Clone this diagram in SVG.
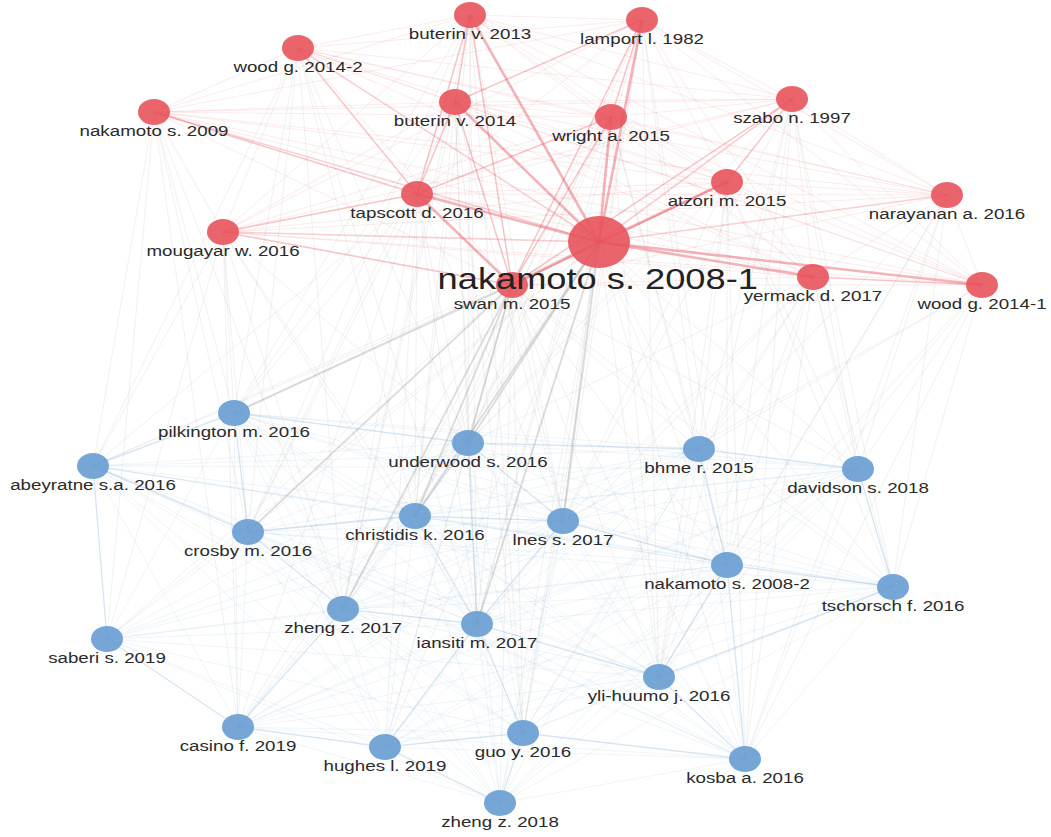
<svg xmlns="http://www.w3.org/2000/svg" width="1051" height="837" viewBox="0 0 1051 837">
<style>
.er line{stroke:#e34a55;stroke-opacity:.11;stroke-width:1}
.er1 line{stroke:#e34a55;stroke-opacity:.26;stroke-width:1.6}
.er2 line{stroke:#e34a55;stroke-opacity:.42;stroke-width:2.6}
.eg line{stroke:#999;stroke-opacity:.14;stroke-width:1}
.eg1 line{stroke:#999;stroke-opacity:.28;stroke-width:2}
.eb line{stroke:#7aaad8;stroke-opacity:.12;stroke-width:1}
.eb1 line{stroke:#7aaad8;stroke-opacity:.22;stroke-width:1.4}
.red{fill:#e8535c;fill-opacity:.9}
.blue{fill:#6a9ed2;fill-opacity:.92}
.lbl{font-family:"Liberation Sans",Arial,sans-serif;font-size:15px;fill:#2a2a2a;text-anchor:middle}
.big{font-family:"Liberation Sans",Arial,sans-serif;font-size:29px;fill:#222;text-anchor:middle}
</style>
<rect width="1051" height="837" fill="#fff"/>
<g id="connectors">
<g class="eb">
<line x1="234" y1="413" x2="468" y2="443"/><line x1="234" y1="413" x2="93" y2="466"/><line x1="234" y1="413" x2="699" y2="449"/><line x1="234" y1="413" x2="858" y2="469"/><line x1="234" y1="413" x2="415" y2="516"/><line x1="234" y1="413" x2="563" y2="521"/><line x1="234" y1="413" x2="248" y2="532"/><line x1="234" y1="413" x2="727" y2="565"/><line x1="234" y1="413" x2="893" y2="587"/><line x1="234" y1="413" x2="343" y2="609"/><line x1="234" y1="413" x2="477" y2="624"/><line x1="234" y1="413" x2="107" y2="639"/><line x1="234" y1="413" x2="659" y2="677"/><line x1="234" y1="413" x2="238" y2="727"/><line x1="234" y1="413" x2="385" y2="747"/><line x1="234" y1="413" x2="523" y2="733"/><line x1="234" y1="413" x2="745" y2="759"/><line x1="234" y1="413" x2="500" y2="803"/>
<line x1="468" y1="443" x2="93" y2="466"/><line x1="468" y1="443" x2="699" y2="449"/><line x1="468" y1="443" x2="858" y2="469"/><line x1="468" y1="443" x2="415" y2="516"/><line x1="468" y1="443" x2="563" y2="521"/><line x1="468" y1="443" x2="248" y2="532"/><line x1="468" y1="443" x2="727" y2="565"/><line x1="468" y1="443" x2="893" y2="587"/><line x1="468" y1="443" x2="343" y2="609"/><line x1="468" y1="443" x2="477" y2="624"/><line x1="468" y1="443" x2="107" y2="639"/><line x1="468" y1="443" x2="659" y2="677"/><line x1="468" y1="443" x2="238" y2="727"/><line x1="468" y1="443" x2="385" y2="747"/><line x1="468" y1="443" x2="523" y2="733"/><line x1="468" y1="443" x2="745" y2="759"/><line x1="468" y1="443" x2="500" y2="803"/>
<line x1="93" y1="466" x2="699" y2="449"/><line x1="93" y1="466" x2="858" y2="469"/><line x1="93" y1="466" x2="415" y2="516"/><line x1="93" y1="466" x2="563" y2="521"/><line x1="93" y1="466" x2="248" y2="532"/><line x1="93" y1="466" x2="727" y2="565"/><line x1="93" y1="466" x2="893" y2="587"/><line x1="93" y1="466" x2="343" y2="609"/><line x1="93" y1="466" x2="477" y2="624"/><line x1="93" y1="466" x2="107" y2="639"/><line x1="93" y1="466" x2="659" y2="677"/><line x1="93" y1="466" x2="238" y2="727"/><line x1="93" y1="466" x2="385" y2="747"/><line x1="93" y1="466" x2="523" y2="733"/><line x1="93" y1="466" x2="745" y2="759"/><line x1="93" y1="466" x2="500" y2="803"/>
<line x1="699" y1="449" x2="858" y2="469"/><line x1="699" y1="449" x2="415" y2="516"/><line x1="699" y1="449" x2="563" y2="521"/><line x1="699" y1="449" x2="248" y2="532"/><line x1="699" y1="449" x2="727" y2="565"/><line x1="699" y1="449" x2="893" y2="587"/><line x1="699" y1="449" x2="343" y2="609"/><line x1="699" y1="449" x2="477" y2="624"/><line x1="699" y1="449" x2="107" y2="639"/><line x1="699" y1="449" x2="659" y2="677"/><line x1="699" y1="449" x2="238" y2="727"/><line x1="699" y1="449" x2="385" y2="747"/><line x1="699" y1="449" x2="523" y2="733"/><line x1="699" y1="449" x2="745" y2="759"/><line x1="699" y1="449" x2="500" y2="803"/>
<line x1="858" y1="469" x2="415" y2="516"/><line x1="858" y1="469" x2="563" y2="521"/><line x1="858" y1="469" x2="248" y2="532"/><line x1="858" y1="469" x2="727" y2="565"/><line x1="858" y1="469" x2="893" y2="587"/><line x1="858" y1="469" x2="343" y2="609"/><line x1="858" y1="469" x2="477" y2="624"/><line x1="858" y1="469" x2="659" y2="677"/><line x1="858" y1="469" x2="238" y2="727"/><line x1="858" y1="469" x2="385" y2="747"/><line x1="858" y1="469" x2="523" y2="733"/><line x1="858" y1="469" x2="745" y2="759"/><line x1="858" y1="469" x2="500" y2="803"/>
<line x1="415" y1="516" x2="563" y2="521"/><line x1="415" y1="516" x2="248" y2="532"/><line x1="415" y1="516" x2="727" y2="565"/><line x1="415" y1="516" x2="893" y2="587"/><line x1="415" y1="516" x2="343" y2="609"/><line x1="415" y1="516" x2="477" y2="624"/><line x1="415" y1="516" x2="107" y2="639"/><line x1="415" y1="516" x2="659" y2="677"/><line x1="415" y1="516" x2="238" y2="727"/><line x1="415" y1="516" x2="385" y2="747"/><line x1="415" y1="516" x2="523" y2="733"/><line x1="415" y1="516" x2="745" y2="759"/><line x1="415" y1="516" x2="500" y2="803"/>
<line x1="563" y1="521" x2="248" y2="532"/><line x1="563" y1="521" x2="727" y2="565"/><line x1="563" y1="521" x2="893" y2="587"/><line x1="563" y1="521" x2="343" y2="609"/><line x1="563" y1="521" x2="477" y2="624"/><line x1="563" y1="521" x2="107" y2="639"/><line x1="563" y1="521" x2="659" y2="677"/><line x1="563" y1="521" x2="238" y2="727"/><line x1="563" y1="521" x2="385" y2="747"/><line x1="563" y1="521" x2="523" y2="733"/><line x1="563" y1="521" x2="745" y2="759"/><line x1="563" y1="521" x2="500" y2="803"/>
<line x1="248" y1="532" x2="727" y2="565"/><line x1="248" y1="532" x2="893" y2="587"/><line x1="248" y1="532" x2="343" y2="609"/><line x1="248" y1="532" x2="477" y2="624"/><line x1="248" y1="532" x2="107" y2="639"/><line x1="248" y1="532" x2="659" y2="677"/><line x1="248" y1="532" x2="238" y2="727"/><line x1="248" y1="532" x2="385" y2="747"/><line x1="248" y1="532" x2="523" y2="733"/><line x1="248" y1="532" x2="745" y2="759"/><line x1="248" y1="532" x2="500" y2="803"/>
<line x1="727" y1="565" x2="893" y2="587"/><line x1="727" y1="565" x2="343" y2="609"/><line x1="727" y1="565" x2="477" y2="624"/><line x1="727" y1="565" x2="107" y2="639"/><line x1="727" y1="565" x2="659" y2="677"/><line x1="727" y1="565" x2="238" y2="727"/><line x1="727" y1="565" x2="385" y2="747"/><line x1="727" y1="565" x2="523" y2="733"/><line x1="727" y1="565" x2="745" y2="759"/><line x1="727" y1="565" x2="500" y2="803"/>
<line x1="893" y1="587" x2="343" y2="609"/><line x1="893" y1="587" x2="477" y2="624"/><line x1="893" y1="587" x2="659" y2="677"/><line x1="893" y1="587" x2="238" y2="727"/><line x1="893" y1="587" x2="385" y2="747"/><line x1="893" y1="587" x2="523" y2="733"/><line x1="893" y1="587" x2="745" y2="759"/><line x1="893" y1="587" x2="500" y2="803"/>
<line x1="343" y1="609" x2="477" y2="624"/><line x1="343" y1="609" x2="107" y2="639"/><line x1="343" y1="609" x2="659" y2="677"/><line x1="343" y1="609" x2="238" y2="727"/><line x1="343" y1="609" x2="385" y2="747"/><line x1="343" y1="609" x2="523" y2="733"/><line x1="343" y1="609" x2="745" y2="759"/><line x1="343" y1="609" x2="500" y2="803"/>
<line x1="477" y1="624" x2="107" y2="639"/><line x1="477" y1="624" x2="659" y2="677"/><line x1="477" y1="624" x2="238" y2="727"/><line x1="477" y1="624" x2="385" y2="747"/><line x1="477" y1="624" x2="523" y2="733"/><line x1="477" y1="624" x2="745" y2="759"/><line x1="477" y1="624" x2="500" y2="803"/>
<line x1="107" y1="639" x2="659" y2="677"/><line x1="107" y1="639" x2="238" y2="727"/><line x1="107" y1="639" x2="385" y2="747"/><line x1="107" y1="639" x2="523" y2="733"/><line x1="107" y1="639" x2="500" y2="803"/>
<line x1="659" y1="677" x2="238" y2="727"/><line x1="659" y1="677" x2="385" y2="747"/><line x1="659" y1="677" x2="523" y2="733"/><line x1="659" y1="677" x2="745" y2="759"/><line x1="659" y1="677" x2="500" y2="803"/>
<line x1="238" y1="727" x2="385" y2="747"/><line x1="238" y1="727" x2="523" y2="733"/><line x1="238" y1="727" x2="745" y2="759"/><line x1="238" y1="727" x2="500" y2="803"/>
<line x1="385" y1="747" x2="523" y2="733"/><line x1="385" y1="747" x2="745" y2="759"/><line x1="385" y1="747" x2="500" y2="803"/>
<line x1="523" y1="733" x2="745" y2="759"/><line x1="523" y1="733" x2="500" y2="803"/><line x1="745" y1="759" x2="500" y2="803"/>
</g>
<g class="eb1">
<line x1="234" y1="413" x2="93" y2="466"/><line x1="234" y1="413" x2="248" y2="532"/><line x1="234" y1="413" x2="468" y2="443"/><line x1="93" y1="466" x2="248" y2="532"/><line x1="248" y1="532" x2="415" y2="516"/><line x1="415" y1="516" x2="468" y2="443"/><line x1="415" y1="516" x2="563" y2="521"/><line x1="563" y1="521" x2="468" y2="443"/><line x1="468" y1="443" x2="699" y2="449"/><line x1="699" y1="449" x2="858" y2="469"/><line x1="699" y1="449" x2="727" y2="565"/><line x1="727" y1="565" x2="893" y2="587"/><line x1="858" y1="469" x2="893" y2="587"/><line x1="563" y1="521" x2="727" y2="565"/><line x1="477" y1="624" x2="343" y2="609"/><line x1="477" y1="624" x2="415" y2="516"/><line x1="477" y1="624" x2="563" y2="521"/><line x1="477" y1="624" x2="523" y2="733"/><line x1="477" y1="624" x2="659" y2="677"/><line x1="477" y1="624" x2="385" y2="747"/><line x1="343" y1="609" x2="248" y2="532"/><line x1="343" y1="609" x2="238" y2="727"/><line x1="238" y1="727" x2="385" y2="747"/><line x1="385" y1="747" x2="523" y2="733"/><line x1="523" y1="733" x2="500" y2="803"/><line x1="523" y1="733" x2="745" y2="759"/><line x1="659" y1="677" x2="745" y2="759"/><line x1="659" y1="677" x2="893" y2="587"/><line x1="727" y1="565" x2="659" y2="677"/><line x1="745" y1="759" x2="727" y2="565"/><line x1="500" y1="803" x2="385" y2="747"/><line x1="107" y1="639" x2="93" y2="466"/><line x1="107" y1="639" x2="238" y2="727"/><line x1="468" y1="443" x2="477" y2="624"/>
</g>
<g class="eg">
<line x1="512" y1="285" x2="234" y2="413"/><line x1="512" y1="285" x2="468" y2="443"/><line x1="512" y1="285" x2="93" y2="466"/><line x1="512" y1="285" x2="699" y2="449"/><line x1="512" y1="285" x2="858" y2="469"/><line x1="512" y1="285" x2="415" y2="516"/><line x1="512" y1="285" x2="563" y2="521"/><line x1="512" y1="285" x2="248" y2="532"/><line x1="512" y1="285" x2="727" y2="565"/><line x1="512" y1="285" x2="893" y2="587"/><line x1="512" y1="285" x2="343" y2="609"/><line x1="512" y1="285" x2="477" y2="624"/><line x1="512" y1="285" x2="107" y2="639"/><line x1="512" y1="285" x2="659" y2="677"/><line x1="512" y1="285" x2="238" y2="727"/><line x1="512" y1="285" x2="385" y2="747"/><line x1="512" y1="285" x2="523" y2="733"/><line x1="512" y1="285" x2="745" y2="759"/><line x1="512" y1="285" x2="500" y2="803"/>
<line x1="599" y1="242" x2="234" y2="413"/><line x1="599" y1="242" x2="468" y2="443"/><line x1="599" y1="242" x2="93" y2="466"/><line x1="599" y1="242" x2="699" y2="449"/><line x1="599" y1="242" x2="858" y2="469"/><line x1="599" y1="242" x2="415" y2="516"/><line x1="599" y1="242" x2="563" y2="521"/><line x1="599" y1="242" x2="248" y2="532"/><line x1="599" y1="242" x2="727" y2="565"/><line x1="599" y1="242" x2="893" y2="587"/><line x1="599" y1="242" x2="343" y2="609"/><line x1="599" y1="242" x2="477" y2="624"/><line x1="599" y1="242" x2="107" y2="639"/><line x1="599" y1="242" x2="659" y2="677"/><line x1="599" y1="242" x2="238" y2="727"/><line x1="599" y1="242" x2="385" y2="747"/><line x1="599" y1="242" x2="523" y2="733"/><line x1="599" y1="242" x2="745" y2="759"/><line x1="599" y1="242" x2="500" y2="803"/>
<line x1="417" y1="194" x2="234" y2="413"/><line x1="417" y1="194" x2="248" y2="532"/><line x1="417" y1="194" x2="468" y2="443"/><line x1="417" y1="194" x2="93" y2="466"/><line x1="417" y1="194" x2="415" y2="516"/><line x1="417" y1="194" x2="343" y2="609"/><line x1="417" y1="194" x2="477" y2="624"/><line x1="417" y1="194" x2="563" y2="521"/><line x1="417" y1="194" x2="238" y2="727"/><line x1="417" y1="194" x2="385" y2="747"/>
<line x1="223" y1="232" x2="234" y2="413"/><line x1="223" y1="232" x2="93" y2="466"/><line x1="223" y1="232" x2="248" y2="532"/><line x1="223" y1="232" x2="107" y2="639"/><line x1="223" y1="232" x2="238" y2="727"/><line x1="223" y1="232" x2="415" y2="516"/><line x1="223" y1="232" x2="343" y2="609"/><line x1="223" y1="232" x2="477" y2="624"/><line x1="223" y1="232" x2="468" y2="443"/>
<line x1="154" y1="112" x2="93" y2="466"/><line x1="154" y1="112" x2="234" y2="413"/><line x1="154" y1="112" x2="248" y2="532"/><line x1="154" y1="112" x2="107" y2="639"/><line x1="154" y1="112" x2="238" y2="727"/><line x1="154" y1="112" x2="343" y2="609"/>
<line x1="298" y1="48" x2="234" y2="413"/><line x1="298" y1="48" x2="248" y2="532"/><line x1="298" y1="48" x2="468" y2="443"/><line x1="298" y1="48" x2="93" y2="466"/><line x1="298" y1="48" x2="415" y2="516"/><line x1="298" y1="48" x2="343" y2="609"/><line x1="298" y1="48" x2="477" y2="624"/>
<line x1="455" y1="102" x2="468" y2="443"/><line x1="455" y1="102" x2="415" y2="516"/><line x1="455" y1="102" x2="477" y2="624"/><line x1="455" y1="102" x2="234" y2="413"/><line x1="455" y1="102" x2="248" y2="532"/><line x1="455" y1="102" x2="563" y2="521"/><line x1="455" y1="102" x2="343" y2="609"/><line x1="455" y1="102" x2="523" y2="733"/>
<line x1="470" y1="15" x2="477" y2="624"/><line x1="470" y1="15" x2="563" y2="521"/><line x1="470" y1="15" x2="468" y2="443"/><line x1="470" y1="15" x2="415" y2="516"/><line x1="470" y1="15" x2="248" y2="532"/><line x1="470" y1="15" x2="343" y2="609"/><line x1="470" y1="15" x2="523" y2="733"/><line x1="470" y1="15" x2="234" y2="413"/>
<line x1="611" y1="117" x2="468" y2="443"/><line x1="611" y1="117" x2="563" y2="521"/><line x1="611" y1="117" x2="699" y2="449"/><line x1="611" y1="117" x2="477" y2="624"/><line x1="611" y1="117" x2="727" y2="565"/><line x1="611" y1="117" x2="415" y2="516"/><line x1="611" y1="117" x2="659" y2="677"/><line x1="611" y1="117" x2="343" y2="609"/>
<line x1="642" y1="20" x2="699" y2="449"/><line x1="642" y1="20" x2="727" y2="565"/><line x1="642" y1="20" x2="563" y2="521"/><line x1="642" y1="20" x2="477" y2="624"/><line x1="642" y1="20" x2="468" y2="443"/><line x1="642" y1="20" x2="659" y2="677"/><line x1="642" y1="20" x2="523" y2="733"/><line x1="642" y1="20" x2="415" y2="516"/>
<line x1="792" y1="99" x2="858" y2="469"/><line x1="792" y1="99" x2="727" y2="565"/><line x1="792" y1="99" x2="893" y2="587"/><line x1="792" y1="99" x2="699" y2="449"/><line x1="792" y1="99" x2="659" y2="677"/><line x1="792" y1="99" x2="745" y2="759"/><line x1="792" y1="99" x2="563" y2="521"/><line x1="792" y1="99" x2="468" y2="443"/>
<line x1="727" y1="182" x2="699" y2="449"/><line x1="727" y1="182" x2="727" y2="565"/><line x1="727" y1="182" x2="858" y2="469"/><line x1="727" y1="182" x2="659" y2="677"/><line x1="727" y1="182" x2="563" y2="521"/><line x1="727" y1="182" x2="468" y2="443"/><line x1="727" y1="182" x2="893" y2="587"/><line x1="727" y1="182" x2="745" y2="759"/>
<line x1="947" y1="195" x2="858" y2="469"/><line x1="947" y1="195" x2="893" y2="587"/><line x1="947" y1="195" x2="727" y2="565"/><line x1="947" y1="195" x2="745" y2="759"/><line x1="947" y1="195" x2="699" y2="449"/><line x1="947" y1="195" x2="659" y2="677"/>
<line x1="813" y1="277" x2="858" y2="469"/><line x1="813" y1="277" x2="893" y2="587"/><line x1="813" y1="277" x2="727" y2="565"/><line x1="813" y1="277" x2="699" y2="449"/><line x1="813" y1="277" x2="659" y2="677"/><line x1="813" y1="277" x2="745" y2="759"/><line x1="813" y1="277" x2="523" y2="733"/><line x1="813" y1="277" x2="563" y2="521"/><line x1="813" y1="277" x2="468" y2="443"/><line x1="813" y1="277" x2="477" y2="624"/>
<line x1="982" y1="285" x2="858" y2="469"/><line x1="982" y1="285" x2="893" y2="587"/><line x1="982" y1="285" x2="745" y2="759"/><line x1="982" y1="285" x2="727" y2="565"/><line x1="982" y1="285" x2="659" y2="677"/><line x1="982" y1="285" x2="699" y2="449"/><line x1="982" y1="285" x2="563" y2="521"/>
</g>
<g class="eg1">
<line x1="512" y1="285" x2="234" y2="413"/><line x1="512" y1="285" x2="415" y2="516"/><line x1="512" y1="285" x2="468" y2="443"/><line x1="512" y1="285" x2="343" y2="609"/><line x1="599" y1="242" x2="468" y2="443"/><line x1="599" y1="242" x2="563" y2="521"/><line x1="599" y1="242" x2="477" y2="624"/><line x1="512" y1="285" x2="248" y2="532"/><line x1="599" y1="242" x2="415" y2="516"/>
</g>
<g class="er">
<line x1="470" y1="15" x2="642" y2="20"/><line x1="470" y1="15" x2="298" y2="48"/><line x1="470" y1="15" x2="154" y2="112"/><line x1="470" y1="15" x2="455" y2="102"/><line x1="470" y1="15" x2="611" y2="117"/><line x1="470" y1="15" x2="792" y2="99"/><line x1="470" y1="15" x2="727" y2="182"/><line x1="470" y1="15" x2="947" y2="195"/><line x1="470" y1="15" x2="417" y2="194"/><line x1="470" y1="15" x2="223" y2="232"/><line x1="470" y1="15" x2="512" y2="285"/><line x1="470" y1="15" x2="813" y2="277"/><line x1="470" y1="15" x2="982" y2="285"/>
<line x1="642" y1="20" x2="298" y2="48"/><line x1="642" y1="20" x2="154" y2="112"/><line x1="642" y1="20" x2="455" y2="102"/><line x1="642" y1="20" x2="611" y2="117"/><line x1="642" y1="20" x2="792" y2="99"/><line x1="642" y1="20" x2="727" y2="182"/><line x1="642" y1="20" x2="947" y2="195"/><line x1="642" y1="20" x2="417" y2="194"/><line x1="642" y1="20" x2="223" y2="232"/><line x1="642" y1="20" x2="512" y2="285"/><line x1="642" y1="20" x2="813" y2="277"/><line x1="642" y1="20" x2="982" y2="285"/>
<line x1="298" y1="48" x2="154" y2="112"/><line x1="298" y1="48" x2="455" y2="102"/><line x1="298" y1="48" x2="611" y2="117"/><line x1="298" y1="48" x2="792" y2="99"/><line x1="298" y1="48" x2="727" y2="182"/><line x1="298" y1="48" x2="947" y2="195"/><line x1="298" y1="48" x2="417" y2="194"/><line x1="298" y1="48" x2="223" y2="232"/><line x1="298" y1="48" x2="512" y2="285"/><line x1="298" y1="48" x2="813" y2="277"/><line x1="298" y1="48" x2="982" y2="285"/>
<line x1="154" y1="112" x2="455" y2="102"/><line x1="154" y1="112" x2="611" y2="117"/><line x1="154" y1="112" x2="792" y2="99"/><line x1="154" y1="112" x2="727" y2="182"/><line x1="154" y1="112" x2="947" y2="195"/><line x1="154" y1="112" x2="417" y2="194"/><line x1="154" y1="112" x2="223" y2="232"/><line x1="154" y1="112" x2="512" y2="285"/><line x1="154" y1="112" x2="813" y2="277"/><line x1="154" y1="112" x2="982" y2="285"/>
<line x1="455" y1="102" x2="611" y2="117"/><line x1="455" y1="102" x2="792" y2="99"/><line x1="455" y1="102" x2="727" y2="182"/><line x1="455" y1="102" x2="947" y2="195"/><line x1="455" y1="102" x2="417" y2="194"/><line x1="455" y1="102" x2="223" y2="232"/><line x1="455" y1="102" x2="512" y2="285"/><line x1="455" y1="102" x2="813" y2="277"/><line x1="455" y1="102" x2="982" y2="285"/>
<line x1="611" y1="117" x2="792" y2="99"/><line x1="611" y1="117" x2="727" y2="182"/><line x1="611" y1="117" x2="947" y2="195"/><line x1="611" y1="117" x2="417" y2="194"/><line x1="611" y1="117" x2="223" y2="232"/><line x1="611" y1="117" x2="512" y2="285"/><line x1="611" y1="117" x2="813" y2="277"/><line x1="611" y1="117" x2="982" y2="285"/>
<line x1="792" y1="99" x2="727" y2="182"/><line x1="792" y1="99" x2="947" y2="195"/><line x1="792" y1="99" x2="417" y2="194"/><line x1="792" y1="99" x2="223" y2="232"/><line x1="792" y1="99" x2="512" y2="285"/><line x1="792" y1="99" x2="813" y2="277"/><line x1="792" y1="99" x2="982" y2="285"/>
<line x1="727" y1="182" x2="947" y2="195"/><line x1="727" y1="182" x2="417" y2="194"/><line x1="727" y1="182" x2="223" y2="232"/><line x1="727" y1="182" x2="512" y2="285"/><line x1="727" y1="182" x2="813" y2="277"/><line x1="727" y1="182" x2="982" y2="285"/>
<line x1="947" y1="195" x2="417" y2="194"/><line x1="947" y1="195" x2="223" y2="232"/><line x1="947" y1="195" x2="512" y2="285"/><line x1="947" y1="195" x2="813" y2="277"/><line x1="947" y1="195" x2="982" y2="285"/>
<line x1="417" y1="194" x2="223" y2="232"/><line x1="417" y1="194" x2="813" y2="277"/><line x1="417" y1="194" x2="982" y2="285"/>
<line x1="223" y1="232" x2="512" y2="285"/><line x1="223" y1="232" x2="813" y2="277"/><line x1="223" y1="232" x2="982" y2="285"/>
<line x1="512" y1="285" x2="813" y2="277"/><line x1="512" y1="285" x2="982" y2="285"/><line x1="813" y1="277" x2="982" y2="285"/>
</g>
<g class="er1">
<line x1="599" y1="242" x2="298" y2="48"/><line x1="599" y1="242" x2="154" y2="112"/><line x1="599" y1="242" x2="792" y2="99"/><line x1="599" y1="242" x2="947" y2="195"/><line x1="599" y1="242" x2="223" y2="232"/>
<line x1="470" y1="15" x2="512" y2="285"/><line x1="642" y1="20" x2="512" y2="285"/><line x1="455" y1="102" x2="512" y2="285"/><line x1="611" y1="117" x2="512" y2="285"/><line x1="223" y1="232" x2="512" y2="285"/><line x1="792" y1="99" x2="512" y2="285"/><line x1="727" y1="182" x2="512" y2="285"/>
<line x1="417" y1="194" x2="455" y2="102"/><line x1="417" y1="194" x2="470" y2="15"/><line x1="417" y1="194" x2="611" y2="117"/><line x1="470" y1="15" x2="455" y2="102"/><line x1="642" y1="20" x2="611" y2="117"/><line x1="642" y1="20" x2="455" y2="102"/><line x1="154" y1="112" x2="417" y2="194"/><line x1="223" y1="232" x2="417" y2="194"/><line x1="298" y1="48" x2="417" y2="194"/><line x1="792" y1="99" x2="727" y2="182"/><line x1="813" y1="277" x2="982" y2="285"/>
</g>
<g class="er2">
<line x1="599" y1="242" x2="470" y2="15"/><line x1="599" y1="242" x2="642" y2="20"/><line x1="599" y1="242" x2="455" y2="102"/><line x1="599" y1="242" x2="611" y2="117"/><line x1="599" y1="242" x2="727" y2="182"/><line x1="599" y1="242" x2="417" y2="194"/><line x1="599" y1="242" x2="512" y2="285"/><line x1="599" y1="242" x2="813" y2="277"/><line x1="599" y1="242" x2="982" y2="285"/><line x1="417" y1="194" x2="512" y2="285"/>
</g>
</g>
<g id="nodes">
<g id="n-pilkington-2016" transform="translate(234 413)"><ellipse class="blue" rx="16" ry="13"/><text class="lbl" y="24" transform="scale(1.25 1)">pilkington m. 2016</text></g>
<g id="n-underwood-2016" transform="translate(468 443)"><ellipse class="blue" rx="16" ry="13"/><text class="lbl" y="24" transform="scale(1.25 1)">underwood s. 2016</text></g>
<g id="n-abeyratne-2016" transform="translate(93 466)"><ellipse class="blue" rx="16" ry="13"/><text class="lbl" y="24" transform="scale(1.25 1)">abeyratne s.a. 2016</text></g>
<g id="n-bhme-2015" transform="translate(699 449)"><ellipse class="blue" rx="16" ry="13"/><text class="lbl" y="24" transform="scale(1.25 1)">bhme r. 2015</text></g>
<g id="n-davidson-2018" transform="translate(858 469)"><ellipse class="blue" rx="16" ry="13"/><text class="lbl" y="24" transform="scale(1.25 1)">davidson s. 2018</text></g>
<g id="n-christidis-2016" transform="translate(415 516)"><ellipse class="blue" rx="16" ry="13"/><text class="lbl" y="24" transform="scale(1.25 1)">christidis k. 2016</text></g>
<g id="n-lnes-2017" transform="translate(563 521)"><ellipse class="blue" rx="16" ry="13"/><text class="lbl" y="24" transform="scale(1.25 1)">lnes s. 2017</text></g>
<g id="n-crosby-2016" transform="translate(248 532)"><ellipse class="blue" rx="16" ry="13"/><text class="lbl" y="24" transform="scale(1.25 1)">crosby m. 2016</text></g>
<g id="n-nakamoto-2008-2" transform="translate(727 565)"><ellipse class="blue" rx="16" ry="13"/><text class="lbl" y="24" transform="scale(1.25 1)">nakamoto s. 2008-2</text></g>
<g id="n-tschorsch-2016" transform="translate(893 587)"><ellipse class="blue" rx="16" ry="13"/><text class="lbl" y="24" transform="scale(1.25 1)">tschorsch f. 2016</text></g>
<g id="n-zheng-2017" transform="translate(343 609)"><ellipse class="blue" rx="16" ry="13"/><text class="lbl" y="24" transform="scale(1.25 1)">zheng z. 2017</text></g>
<g id="n-iansiti-2017" transform="translate(477 624)"><ellipse class="blue" rx="16" ry="13"/><text class="lbl" y="24" transform="scale(1.25 1)">iansiti m. 2017</text></g>
<g id="n-saberi-2019" transform="translate(107 639)"><ellipse class="blue" rx="16" ry="13"/><text class="lbl" y="24" transform="scale(1.25 1)">saberi s. 2019</text></g>
<g id="n-yli-huumo-2016" transform="translate(659 677)"><ellipse class="blue" rx="16" ry="13"/><text class="lbl" y="24" transform="scale(1.25 1)">yli-huumo j. 2016</text></g>
<g id="n-casino-2019" transform="translate(238 727)"><ellipse class="blue" rx="16" ry="13"/><text class="lbl" y="24" transform="scale(1.25 1)">casino f. 2019</text></g>
<g id="n-hughes-2019" transform="translate(385 747)"><ellipse class="blue" rx="16" ry="13"/><text class="lbl" y="24" transform="scale(1.25 1)">hughes l. 2019</text></g>
<g id="n-guo-2016" transform="translate(523 733)"><ellipse class="blue" rx="16" ry="13"/><text class="lbl" y="24" transform="scale(1.25 1)">guo y. 2016</text></g>
<g id="n-kosba-2016" transform="translate(745 759)"><ellipse class="blue" rx="16" ry="13"/><text class="lbl" y="24" transform="scale(1.25 1)">kosba a. 2016</text></g>
<g id="n-zheng-2018" transform="translate(500 803)"><ellipse class="blue" rx="16" ry="13"/><text class="lbl" y="24" transform="scale(1.25 1)">zheng z. 2018</text></g>
<g id="n-buterin-2013" transform="translate(470 15)"><ellipse class="red" rx="16" ry="13"/><text class="lbl" y="24" transform="scale(1.25 1)">buterin v. 2013</text></g>
<g id="n-lamport-1982" transform="translate(642 20)"><ellipse class="red" rx="16" ry="13"/><text class="lbl" y="24" transform="scale(1.25 1)">lamport l. 1982</text></g>
<g id="n-wood-2014-2" transform="translate(298 48)"><ellipse class="red" rx="16" ry="13"/><text class="lbl" y="24" transform="scale(1.25 1)">wood g. 2014-2</text></g>
<g id="n-nakamoto-2009" transform="translate(154 112)"><ellipse class="red" rx="16" ry="13"/><text class="lbl" y="24" transform="scale(1.25 1)">nakamoto s. 2009</text></g>
<g id="n-buterin-2014" transform="translate(455 102)"><ellipse class="red" rx="16" ry="13"/><text class="lbl" y="24" transform="scale(1.25 1)">buterin v. 2014</text></g>
<g id="n-wright-2015" transform="translate(611 117)"><ellipse class="red" rx="16" ry="13"/><text class="lbl" y="24" transform="scale(1.25 1)">wright a. 2015</text></g>
<g id="n-szabo-1997" transform="translate(792 99)"><ellipse class="red" rx="16" ry="13"/><text class="lbl" y="24" transform="scale(1.25 1)">szabo n. 1997</text></g>
<g id="n-atzori-2015" transform="translate(727 182)"><ellipse class="red" rx="16" ry="13"/><text class="lbl" y="24" transform="scale(1.25 1)">atzori m. 2015</text></g>
<g id="n-narayanan-2016" transform="translate(947 195)"><ellipse class="red" rx="16" ry="13"/><text class="lbl" y="24" transform="scale(1.25 1)">narayanan a. 2016</text></g>
<g id="n-tapscott-2016" transform="translate(417 194)"><ellipse class="red" rx="16" ry="13"/><text class="lbl" y="24" transform="scale(1.25 1)">tapscott d. 2016</text></g>
<g id="n-mougayar-2016" transform="translate(223 232)"><ellipse class="red" rx="16" ry="13"/><text class="lbl" y="24" transform="scale(1.25 1)">mougayar w. 2016</text></g>
<g id="n-yermack-2017" transform="translate(813 277)"><ellipse class="red" rx="16" ry="13"/><text class="lbl" y="24" transform="scale(1.25 1)">yermack d. 2017</text></g>
<g id="n-wood-2014-1" transform="translate(982 285)"><ellipse class="red" rx="16" ry="13"/><text class="lbl" y="24" transform="scale(1.25 1)">wood g. 2014-1</text></g>
<g id="n-swan-2015" transform="translate(512 285)"><ellipse class="red" rx="16" ry="13"/><text class="lbl" y="24" transform="scale(1.25 1)">swan m. 2015</text></g>
<g id="n-nakamoto-2008-1" transform="translate(599 242)"><ellipse class="red" rx="31" ry="26"/><text class="big" x="-1" y="47" transform="scale(1.25 1)">nakamoto s. 2008-1</text></g>
</g>
</svg>
